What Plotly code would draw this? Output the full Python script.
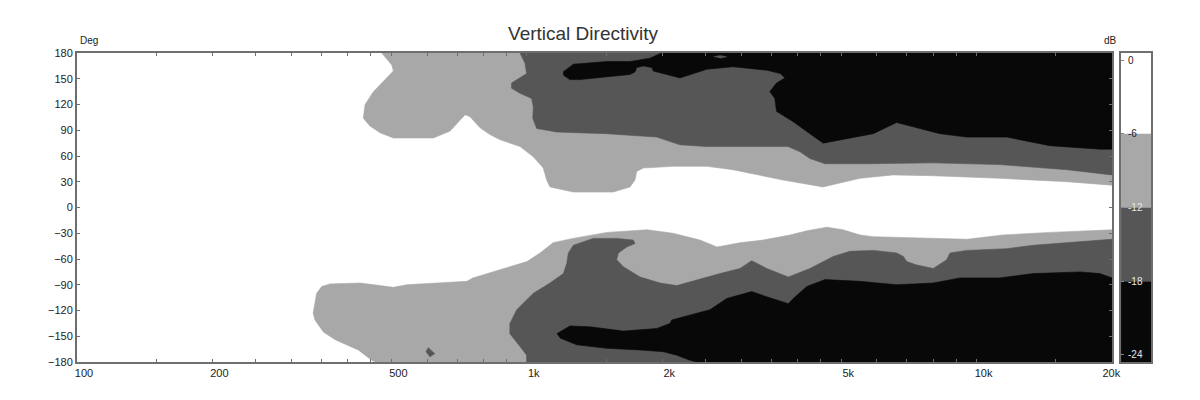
import math
import plotly.graph_objects as go

# ---------------- data ----------------
title = "Vertical Directivity"
levels_db = [0, -6, -12, -18, -24]
band_colors = ["#ffffff", "#a8a8a8", "#565656", "#080808"]
level_label_colors = ["#222222", "#222222", "#e6e6e6", "#e6e6e6", "#e6e6e6"]

freq_ticks = [100, 150, 200, 250, 300, 350, 400, 450, 500, 600, 700, 800, 900,
              1000, 1500, 2000, 2500, 3000, 3500, 4000, 4500, 5000, 6000, 7000,
              8000, 9000, 10000, 15000, 20000]
freq_tick_labels = {100: "100", 200: "200", 500: "500", 1000: "1k", 2000: "2k",
                    5000: "5k", 10000: "10k", 20000: "20k"}
angle_ticks = [-180, -150, -120, -90, -60, -30, 0, 30, 60, 90, 120, 150, 180]

# Contour outlines: frequency (Hz) and angle (deg)
# region below -6 dB, upper half
below6_up_f = [476, 501, 505, 480, 456, 437, 433, 448, 472, 505, 620, 675, 729, 747,
               787, 828, 872, 966, 1034, 1088, 1107, 1126, 1269, 1557, 1696, 1740,
               1755, 1816, 2117, 2512, 2873, 3134, 3712, 4555, 5047, 5506, 6518, 8000,
               11270, 15890, 20000, 20000]
below6_up_a = [180, 166, 159, 147, 135, 120, 104, 95, 87, 81, 81, 89, 108, 106,
               93, 85, 79, 71, 59, 46, 32, 24, 18, 18, 24, 32,
               42, 46, 48, 48, 44, 40, 32, 24, 29, 34, 38, 37,
               34, 30, 26, 180]
# region below -12 dB, upper half
below12_up_f = [966, 991, 999, 966, 925, 925, 966, 1025, 1034, 1031, 1052, 1166, 1505,
                1945, 2191, 2512, 3134, 3808, 4050, 4262, 4603, 5706, 8000, 11270,
                15890, 20000, 20000]
below12_up_a = [180, 168, 156, 151, 145, 139, 133, 127, 117, 104, 92, 88, 86,
                82, 73, 71, 71, 71, 65, 57, 51, 51, 52, 50,
                44, 38, 180]
# region below -18 dB, upper half
below18_up_f = [1204, 1269, 1505, 1696, 1879, 1978, 1990, 20000, 20000, 18800, 14560,
                11670, 9500, 8290, 7360, 6640, 5890, 5050, 4560, 4260, 3910, 3590,
                3560, 3470, 3590, 3750, 3660, 3415, 2873, 2512, 2191, 2046, 1911,
                1896, 1816, 1755, 1740, 1696, 1505, 1313, 1247, 1206]
below18_up_a = [158, 167, 170, 170, 174, 179, 180, 180, 68, 68, 72,
                82, 82, 86, 93, 99, 86, 79, 75, 86, 100, 112,
                127, 135, 145, 151, 156, 160, 164, 161, 151, 155, 159,
                163, 165, 163, 158, 155, 152, 149, 149, 154]
# small -12..-18 dB island inside the upper black area
island12_up_f = [2600, 2690, 2780, 2690]
island12_up_a = [175.5, 177, 175.5, 174]

# region below -6 dB, lower half
below6_lo_f = [460, 452, 422, 405, 375, 353, 338, 335, 341, 350, 365, 426, 505, 541,
               641, 736, 759, 904, 1001, 1070, 1144, 1267, 1508, 1850, 2113, 2427,
               2648, 2979, 3350, 3848, 4198, 4650, 5047, 5506, 5884, 9521, 11450,
               14560, 20000, 20000]
below6_lo_a = [-180, -178, -166, -162, -154, -145, -131, -123, -100, -92, -89, -88, -93, -90,
               -88, -86, -82, -70, -63, -53, -41, -36, -29, -26, -30, -38,
               -46, -41, -38, -32, -27, -23, -26, -32, -34, -37, -32,
               -29, -26, -180]
# region below -12 dB, lower half
below12_lo_f = [999, 999, 966, 917, 917, 950, 1034, 1126, 1206, 1227, 1237, 1269, 1405,
                1584, 1725, 1740, 1668, 1598, 1584, 1639, 1786, 1978, 2154, 2512, 2689,
                2979, 3162, 3415, 3815, 4262, 4802, 5232, 5894, 6643, 6873, 6993, 7360,
                8010, 8580, 8729, 9506, 11670, 13370, 20000, 20000]
below12_lo_a = [-180, -172, -162, -147, -135, -119, -100, -88, -77, -65, -53, -44, -36,
                -36, -38, -42, -46, -53, -61, -69, -81, -88, -91, -81, -77,
                -71, -62, -71, -81, -71, -57, -51, -50, -53, -57, -63, -67,
                -71, -61, -53, -50, -48, -44, -37, -180]
# region below -18 dB, lower half
below18_lo_f = [1166, 1247, 1382, 1639, 1945, 2082, 2100, 2306, 2555, 2783, 3162, 3415,
                3815, 3913, 4193, 4603, 5506, 6643, 8010, 9186, 11270, 13370, 16980,
                18800, 20000, 20000, 2386, 2306, 2154, 2011, 1786, 1505, 1291, 1185]
below18_lo_a = [-147, -138, -139, -144, -141, -135, -131, -125, -119, -106, -98, -104,
                -112, -106, -92, -84, -86, -90, -88, -82, -82, -77, -75,
                -77, -82, -180, -180, -178, -172, -168, -166, -164, -160, -152]
# small -12..-18 dB spot inside the lower light-grey area
island12_lo_f = [604, 597, 609, 625]
island12_lo_a = [-163, -168, -174, -170]

# (outline, band index into band_colors) in drawing order
regions = [
    (below6_up_f, below6_up_a, 1),
    (below6_lo_f, below6_lo_a, 1),
    (below12_up_f, below12_up_a, 2),
    (below12_lo_f, below12_lo_a, 2),
    (island12_lo_f, island12_lo_a, 2),
    (below18_up_f, below18_up_a, 3),
    (below18_lo_f, below18_lo_a, 3),
    (island12_up_f, island12_up_a, 2),
]

# ---------------- style ----------------
FONT = "Liberation Sans, Arial, sans-serif"
AXIS_COLOR = "#6e6e6e"
TEXT_COLOR = "#222222"
cbar_range = [-24.57, 0.57]

fig = go.Figure()

for f, a, band in regions:
    fig.add_trace(go.Scatter(
        x=f, y=a, mode="lines", fill="toself",
        fillcolor=band_colors[band],
        line=dict(color=band_colors[band], width=0.6),
        hoverinfo="skip", showlegend=False, xaxis="x", yaxis="y"))

# colour scale bar
for i in range(len(levels_db) - 1):
    top = levels_db[i]
    bottom = levels_db[i + 1] if i < len(levels_db) - 2 else cbar_range[0]
    fig.add_trace(go.Bar(
        x=[0], y=[top - bottom], base=[bottom], width=[1],
        marker=dict(color=band_colors[i], line=dict(width=0)),
        hoverinfo="skip", showlegend=False, xaxis="x2", yaxis="y2"))

tick_text = [freq_tick_labels.get(v, "") for v in freq_ticks]
tick_text[-1] = "20k" + "\u00a0" * 5

annotations = [
    dict(text="Deg", xref="paper", yref="paper", x=0.001, y=1.039,
         xanchor="left", yanchor="middle", showarrow=False,
         font=dict(family=FONT, size=10, color=TEXT_COLOR)),
    dict(text="dB", xref="paper", yref="paper", x=0.961, y=1.039,
         xanchor="center", yanchor="middle", showarrow=False,
         font=dict(family=FONT, size=10, color=TEXT_COLOR)),
]
for lv, col in zip(levels_db, level_label_colors):
    annotations.append(dict(
        text=str(lv), xref="x2 domain", yref="y2", x=0.18, y=lv,
        xanchor="left", yanchor="middle", showarrow=False,
        font=dict(family=FONT, size=10, color=col)))

fig.update_layout(
    width=1200, height=400,
    margin=dict(l=77, r=48, t=53, b=38),
    paper_bgcolor="white", plot_bgcolor="white",
    barmode="overlay",
    title=dict(text=title, x=0.4707, xref="paper", xanchor="center",
               y=0.9175, yref="container", yanchor="middle",
               font=dict(family=FONT, size=19, color="#333333")),
    font=dict(family=FONT, size=11, color=TEXT_COLOR),
    xaxis=dict(type="log", range=[2, math.log10(20000)], domain=[0, 0.9628],
               tickvals=freq_ticks, ticktext=tick_text, ticks="inside", ticklen=3,
               tickcolor=AXIS_COLOR, tickwidth=1, showline=True, linecolor=AXIS_COLOR,
               linewidth=2, mirror="ticks", showgrid=False, zeroline=False,
               ticklabelshift=7, tickfont=dict(family=FONT, size=11, color=TEXT_COLOR)),
    yaxis=dict(range=[-180, 180], tickvals=angle_ticks, ticks="inside", ticklen=3,
               tickcolor=AXIS_COLOR, tickwidth=1, showline=True, linecolor=AXIS_COLOR,
               linewidth=2, mirror="ticks", showgrid=False, zeroline=False,
               tickfont=dict(family=FONT, size=11, color=TEXT_COLOR)),
    xaxis2=dict(domain=[0.9712, 0.9991], range=[-0.5, 0.5], anchor="y2",
                showticklabels=False, ticks="", showline=True, linecolor=AXIS_COLOR,
                linewidth=1.5, mirror=True, showgrid=False, zeroline=False),
    yaxis2=dict(range=cbar_range, anchor="x2", tickvals=levels_db, ticks="inside",
                ticklen=3, tickcolor="#888888", showticklabels=False, showline=True,
                linecolor=AXIS_COLOR, linewidth=1.5, mirror=True, showgrid=False,
                zeroline=False),
    annotations=annotations,
)

fig.write_html("out.html")
